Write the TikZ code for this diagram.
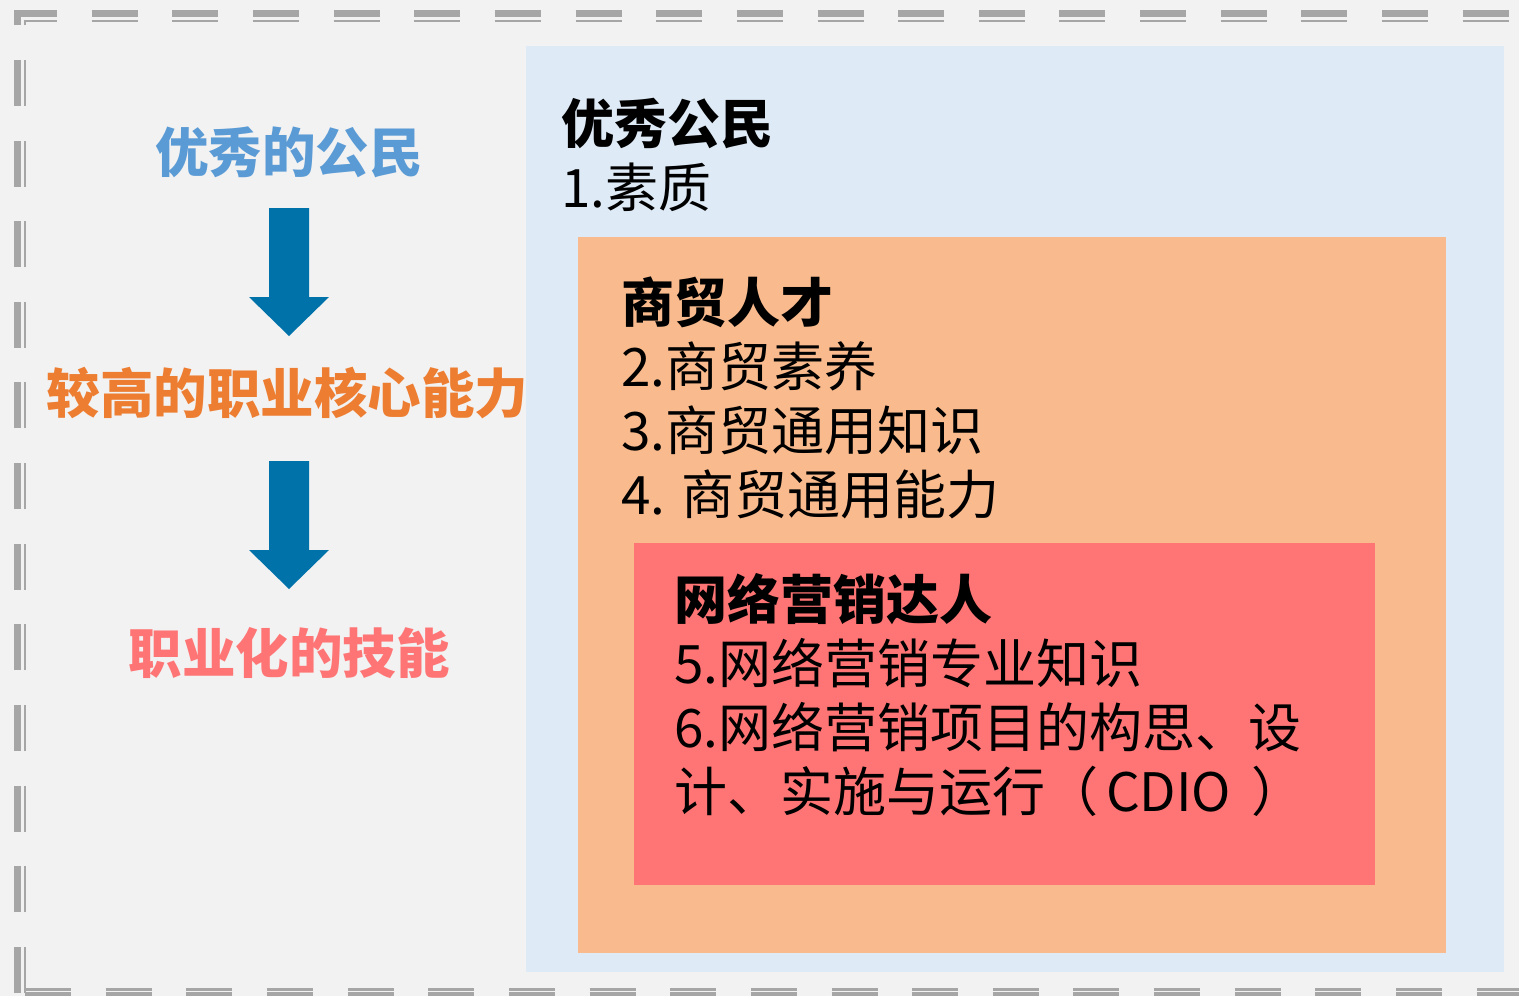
\documentclass[tikz,border=0pt]{standalone}
\usepackage{fontspec}
\setmainfont{Noto Sans CJK SC}
\definecolor{bgc}{HTML}{F2F2F2}
\definecolor{bluebox}{HTML}{DEEAF6}
\definecolor{orangebox}{HTML}{F9BB8E}
\definecolor{redbox}{HTML}{FF7575}
\definecolor{arrowc}{HTML}{0072AA}
\definecolor{bordc}{HTML}{A6A6A6}
\definecolor{tblue}{HTML}{5B9BD5}
\definecolor{torange}{HTML}{ED7D31}
\definecolor{tred}{HTML}{FF7575}
\tikzset{
  bordthick/.style={draw=bordc, line width=7pt, dash pattern=on 46pt off 34.65pt},
  bordthin/.style={draw=bordc, line width=2.5pt, dash pattern=on 46pt off 34.65pt},
  panel/.style={inner sep=0pt, outer sep=0pt, anchor=north west},
  bigtitle/.style={font=\fontsize{53.5}{64}\selectfont\bfseries, inner sep=0pt},
  body/.style={font=\fontsize{53}{63.7}\selectfont, align=left, inner sep=0pt, anchor=base west, text=black},
  blockarrow/.style={fill=arrowc}
}
\begin{document}
\begin{tikzpicture}[x=1pt,y=-1pt]
\fill[bgc] (0,0) rectangle (1519,996);
\useasboundingbox (0,0) rectangle (1519,996);
% dashed double border
\draw[bordthick, dash phase=3pt] (14,13.7) -- (1530,13.7);
\draw[bordthin, dash phase=12.5pt] (23.5,20.8) -- (1530,20.8);
\draw[bordthick] (17.5,993) -- (17.5,10);
\draw[bordthin] (24.8,993) -- (24.8,19.5);
\draw[bordthick] (25,995.5) -- (1530,995.5);
\draw[bordthin] (25,989.3) -- (1530,989.3);
% panels
\node[panel, fill=bluebox, minimum width=978pt, minimum height=926pt] (blue) at (526,46) {};
\node[panel, fill=orangebox, minimum width=868pt, minimum height=716pt] (orange) at (578,237) {};
\node[panel, fill=redbox, minimum width=741pt, minimum height=342pt] (red) at (634,543) {};
% left column
\node[bigtitle, text=tblue] (t1) at (289,152) {优秀的公民};
\node[bigtitle, text=torange] (t2) at (287.5,393) {较高的职业核心能力};
\node[bigtitle, text=tred] (t3) at (289,653) {职业化的技能};
\fill[blockarrow] (269,208) -- (309,208) -- (309,297) -- (329,297) -- (289,336) -- (249,297) -- (269,297) -- cycle;
\fill[blockarrow] (269,461) -- (309,461) -- (309,550) -- (329,550) -- (289,589) -- (249,550) -- (269,550) -- cycle;
% right texts (anchor = baseline of the last line)
\node[body] (bt) at (561,207) {\textbf{优秀公民}\\1.素质};
\node[body] (ot) at (621,514) {\textbf{商贸人才}\\2.商贸素养\\3.商贸通用知识\\4. 商贸通用能力};
\node[body] (rt) at (674,811) {\textbf{网络营销达人}\\5.网络营销专业知识\\6.网络营销项目的构思、设\\计、实施与运行（\hspace{8pt}CDIO\hspace{20pt}）};
\end{tikzpicture}
\end{document}
